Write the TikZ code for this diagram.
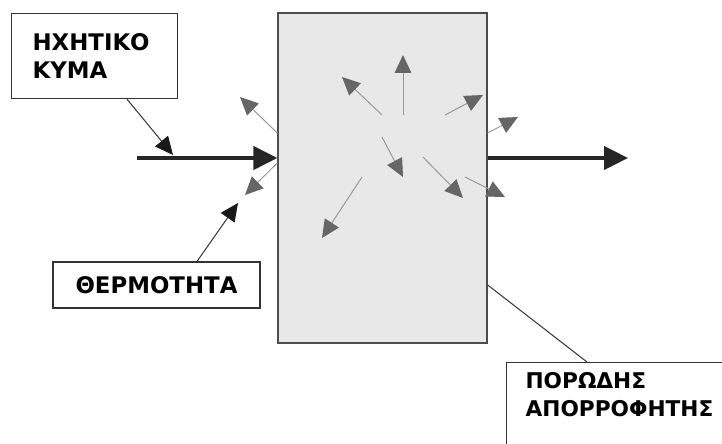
\documentclass[tikz,border=0pt]{standalone}
\usepackage{fontspec}
\setmainfont{DejaVu Sans}
\usetikzlibrary{arrows.meta}

\begin{document}
\begin{tikzpicture}[x=0.3mm,y=-0.3mm,
  tagbox/.style={draw=black!80,line width=0.35mm,inner sep=0pt,align=left,font=\fontsize{19.5}{24}\selectfont\bfseries},
  big arrow/.style={draw=black!85,line width=1mm,-{Triangle[length=7.2mm,width=7mm]}},
  heat arrow/.style={draw=black!40,line width=0.3mm,-{Triangle[length=5.4mm,width=5mm,color=black!60]}},
  pointer/.style={draw=black!80,line width=0.3mm},
  pointer head/.style={pointer,-{Triangle[length=5.4mm,width=5mm,color=black!90]}}]
\useasboundingbox (0,0) rectangle (722,444);
\node[draw=black!70,fill=black!9,line width=0.4mm,minimum width=62.7mm,minimum height=99mm] (abs) at (382.5,178) {};
\node[tagbox,anchor=north west,minimum width=49.8mm,minimum height=25.5mm,text width=37.2mm,inner xsep=6.3mm] (snd) at (11,13) {ΗΧΗΤΙΚΟ\\ΚΥΜΑ};
\node[tagbox,minimum width=62.1mm,minimum height=13.8mm] (therm) at (156.5,285) {ΘΕΡΜΟΤΗΤΑ};
\node[tagbox,draw=none,anchor=north west,font=\fontsize{18.5}{24}\selectfont\bfseries] (por) at (525,372) {ΠΟΡΩΔΗΣ\\ΑΠΟΡΡΟΦΗΤΗΣ};
\draw[pointer] (722,362) -| (506,444);
\coordinate (pframe) at (587,362);
\coordinate (in) at (137,158);
\coordinate (out) at (628,158);
\draw[big arrow] (in) -- (in -| abs.west);
\draw[big arrow] (out -| abs.east) -- (out);
\draw[pointer head] (snd.south -| 127,0) -- (173,155);
\draw[pointer head] (therm.north -| 197,0) -- (238,203);
\draw[pointer] (abs.east |- 0,285) -- (pframe);
\draw[heat arrow] (abs.west |- 0,163) -- (245,195);
\draw[heat arrow] (abs.west |- 0,133) -- (240,97);
\draw[heat arrow] (abs.east |- 0,133) -- (518,117);
\draw[heat arrow] (403,115) -- (403,55);
\draw[heat arrow] (382,115) -- (342,77);
\draw[heat arrow] (445,115) -- (483,95);
\draw[heat arrow] (382,137) -- (403,177);
\draw[heat arrow] (423,157) -- (463,198);
\draw[heat arrow] (362,177) -- (322,238);
\draw[heat arrow] (465,177) -- (505,197);
\end{tikzpicture}
\end{document}
